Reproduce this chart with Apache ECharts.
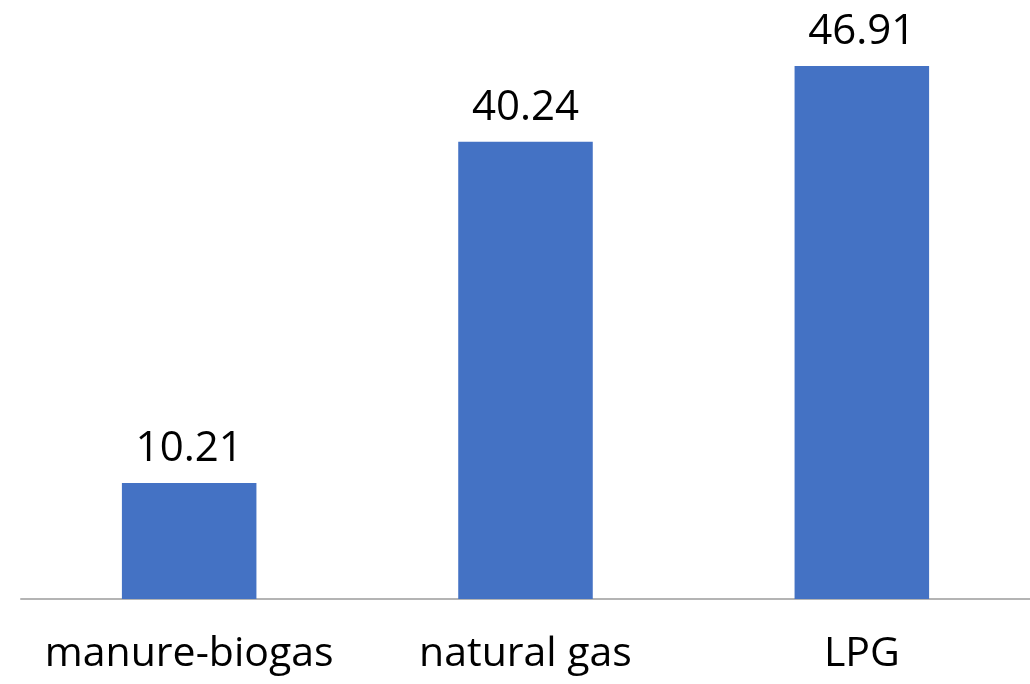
<!DOCTYPE html>
<html>
<head>
<meta charset="utf-8">
<script src="https://cdn.jsdelivr.net/npm/echarts@6/dist/echarts.min.js"></script>
<style>
  html, body { margin: 0; padding: 0; background: #fff; }
  #chart { width: 1030px; height: 684px; }
</style>
</head>
<body>
<div id="chart"></div>
<script>
// Fuel categories and their values
const categories = ['manure-biogas', 'natural gas', 'LPG'];
const values = [10.21, 40.24, 46.91];

const chart = echarts.init(document.getElementById('chart'), null, { renderer: 'canvas' });
chart.setOption({
  animation: false,
  grid: { left: 21, right: -3, top: 31, bottom: 85 },
  xAxis: {
    type: 'category',
    data: categories,
    axisLine: { lineStyle: { color: '#b4b4b4', width: 2 } },
    axisTick: { show: false },
    axisLabel: {
      interval: 0,
      color: '#000',
      fontSize: 41,
      fontFamily: 'Open Sans',
      margin: 35
    }
  },
  yAxis: {
    type: 'value',
    min: 0,
    max: 50,
    show: false,
    splitLine: { show: false }
  },
  series: [{
    type: 'bar',
    data: values,
    barWidth: '40%',
    itemStyle: { color: '#4472C4' },
    label: {
      show: true,
      position: 'top',
      distance: 13,
      color: '#000',
      fontSize: 42,
      fontFamily: 'Open Sans'
    }
  }]
});
</script>
</body>
</html>
